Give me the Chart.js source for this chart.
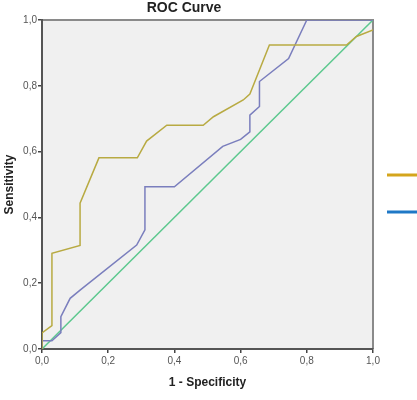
<!DOCTYPE html>
<html>
<head>
<meta charset="utf-8">
<script src="https://cdn.jsdelivr.net/npm/chart.js"></script>
<style>
  body { margin: 0; background: #fff; }
  canvas { display: block; }
</style>
</head>
<body>
<canvas id="roc" width="417" height="400"></canvas>
<script>
// ROC curve, two tests plus the reference diagonal
const chartTitle = 'ROC Curve';
const xTitle = '1 - Specificity';
const yTitle = 'Sensitivity';
const tickValues = [0, 0.2, 0.4, 0.6, 0.8, 1.0];

const goldX = [0, 0, 0.03, 0.03, 0.115, 0.115, 0.172, 0.288, 0.316, 0.377, 0.487, 0.518, 0.608, 0.628, 0.687, 0.92, 0.95, 1.0];
const goldY = [0, 0.049, 0.071, 0.291, 0.315, 0.443, 0.581, 0.581, 0.632, 0.68, 0.68, 0.706, 0.757, 0.775, 0.924, 0.924, 0.95, 0.97];

const blueX = [0, 0, 0.03, 0.057, 0.057, 0.085, 0.115, 0.286, 0.311, 0.311, 0.40, 0.546, 0.60, 0.628, 0.628, 0.657, 0.657, 0.745, 0.80, 1.0];
const blueY = [0, 0.025, 0.025, 0.05, 0.098, 0.154, 0.179, 0.316, 0.362, 0.493, 0.493, 0.616, 0.637, 0.66, 0.711, 0.737, 0.813, 0.883, 1.0, 1.0];

const refX = [0, 1];
const refY = [0, 1];

function toPoints(xs, ys) {
  return xs.map((x, i) => ({ x: x, y: ys[i] }));
}

function fmt(v) {
  return Number(v).toFixed(1).replace('.', ',');
}

const fontFamily = '"Liberation Sans", Arial, sans-serif';

// plot background + frame, title and the (cropped) legend swatches
const decor = {
  id: 'decor',
  beforeDraw(chart) {
    const { ctx, chartArea: a } = chart;
    ctx.save();
    ctx.fillStyle = '#f0f0f0';
    ctx.fillRect(a.left, a.top, a.right - a.left, a.bottom - a.top);
    ctx.strokeStyle = '#8a8a8a';
    ctx.lineWidth = 2;
    ctx.beginPath();
    ctx.moveTo(a.left, a.top);
    ctx.lineTo(a.right, a.top);
    ctx.lineTo(a.right, a.bottom);
    ctx.stroke();
    ctx.restore();
  },
  afterDraw(chart) {
    const { ctx, chartArea: a } = chart;
    ctx.save();
    ctx.fillStyle = '#222';
    ctx.font = 'bold 14px ' + fontFamily;
    ctx.textAlign = 'center';
    ctx.textBaseline = 'middle';
    ctx.fillText(chartTitle, 184, 8);

    const legendColors = ['#d4a51c', '#1f78c6'];
    const legendY = [175, 212];
    ctx.lineWidth = 3;
    legendColors.forEach((c, i) => {
      ctx.strokeStyle = c;
      ctx.beginPath();
      ctx.moveTo(a.right + 14, legendY[i]);
      ctx.lineTo(417, legendY[i]);
      ctx.stroke();
    });
    ctx.restore();
  }
};

new Chart(document.getElementById('roc').getContext('2d'), {
  type: 'scatter',
  data: {
    datasets: [
      {
        label: 'Test 1',
        data: toPoints(goldX, goldY),
        showLine: true,
        borderColor: '#b8aa42',
        borderWidth: 1.5,
        pointRadius: 0,
        tension: 0
      },
      {
        label: 'Test 2',
        data: toPoints(blueX, blueY),
        showLine: true,
        borderColor: '#7a7ebd',
        borderWidth: 1.5,
        pointRadius: 0,
        tension: 0
      },
      {
        label: 'Reference Line',
        data: toPoints(refX, refY),
        showLine: true,
        borderColor: '#5cc88e',
        borderWidth: 1.5,
        pointRadius: 0,
        tension: 0
      }
    ]
  },
  options: {
    responsive: false,
    animation: false,
    layout: { padding: { top: 20, right: 44, left: 0, bottom: 0 } },
    plugins: {
      legend: { display: false },
      tooltip: { enabled: false }
    },
    scales: {
      x: {
        type: 'linear',
        min: 0,
        max: 1,
        afterFit(scale) { scale.height = 51; },
        afterBuildTicks(scale) { scale.ticks = tickValues.map(v => ({ value: v })); },
        ticks: {
          callback: fmt,
          color: '#555',
          padding: 2,
          maxRotation: 0,
          font: { family: fontFamily, size: 10 }
        },
        grid: { drawOnChartArea: false, drawTicks: true, tickLength: 4, color: '#444', lineWidth: 1.5 },
        border: { color: '#555', width: 2 },
        title: {
          display: true,
          text: xTitle,
          color: '#222',
          padding: { top: 0, bottom: 10 },
          font: { family: fontFamily, size: 12, weight: 'bold' }
        }
      },
      y: {
        type: 'linear',
        min: 0,
        max: 1,
        afterFit(scale) { scale.width = 42; },
        afterBuildTicks(scale) { scale.ticks = tickValues.map(v => ({ value: v })); },
        ticks: {
          callback: fmt,
          color: '#555',
          padding: 1,
          font: { family: fontFamily, size: 10 }
        },
        grid: { drawOnChartArea: false, drawTicks: true, tickLength: 4, color: '#444', lineWidth: 1.5 },
        border: { color: '#555', width: 2 },
        title: {
          display: true,
          text: yTitle,
          color: '#222',
          padding: { top: 2, bottom: 0 },
          font: { family: fontFamily, size: 12, weight: 'bold' }
        }
      }
    }
  },
  plugins: [decor]
});
</script>
</body>
</html>
